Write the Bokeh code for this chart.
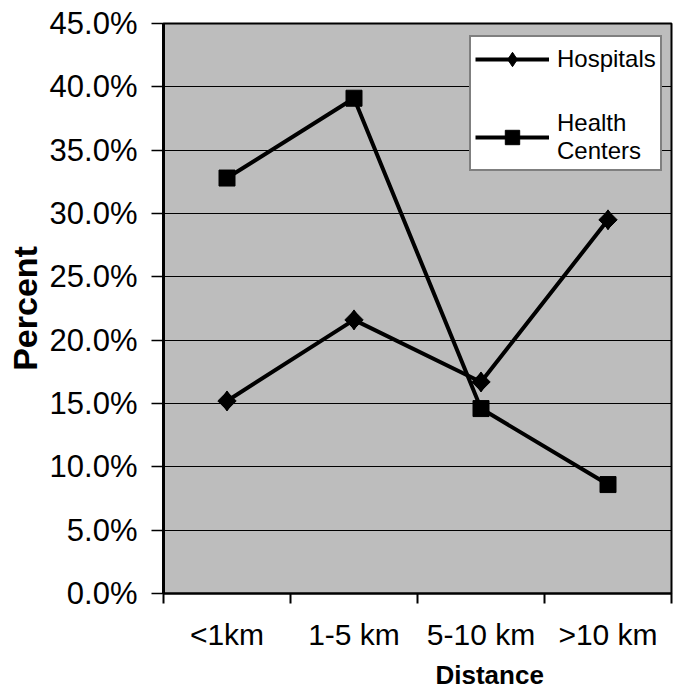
from bokeh.plotting import figure
from bokeh.models import (Range1d, FixedTicker, PrintfTickFormatter, Legend, LegendItem,
                          Title, ColumnDataSource)
from bokeh.embed import file_html
from bokeh.resources import INLINE
import numpy as np

categories = ["<1km", "1-5 km", "5-10 km", ">10 km"]
hospitals = [15.2, 21.6, 16.7, 29.5]
health_centers = [32.8, 39.1, 14.6, 8.6]
y_ticks = [0, 5, 10, 15, 20, 25, 30, 35, 40, 45]

FONT = "Liberation Sans"

xpos = [i + 0.5 for i in range(len(categories))]
src = ColumnDataSource(dict(x=xpos, hosp=hospitals, hc=health_centers))

p = figure(width=674, height=694, output_backend="svg", toolbar_location=None,
           x_range=Range1d(0, len(categories)), y_range=Range1d(0, 45),
           min_border_left=163, min_border_right=3, min_border_top=23, min_border_bottom=101)

p.background_fill_color = "#bdbdbd"
p.border_fill_color = "white"
p.outline_line_color = "black"
p.outline_line_width = 2

# grid
p.xgrid.visible = False
p.ygrid.grid_line_color = "black"
p.ygrid.grid_line_width = 1
p.ygrid.ticker = FixedTicker(ticks=y_ticks)

# y axis
ya = p.yaxis[0]
ya.ticker = FixedTicker(ticks=y_ticks)
ya.formatter = PrintfTickFormatter(format="%.1f%%")
ya.axis_line_width = 3
ya.axis_line_color = "black"
ya.major_tick_in = 0
ya.major_tick_out = 12
ya.major_tick_line_width = 1.5
ya.minor_tick_line_color = None
ya.major_label_text_font = FONT
ya.major_label_text_font_size = "31px"
ya.major_label_text_color = "black"
ya.major_label_standoff = 14
ya.axis_label = "Percent"
ya.axis_label_text_font = FONT
ya.axis_label_text_font_size = "34px"
ya.axis_label_text_font_style = "bold"
ya.axis_label_text_color = "black"
ya.axis_label_standoff = 3

# x axis
xa = p.xaxis[0]
xa.ticker = FixedTicker(ticks=xpos, minor_ticks=list(range(len(categories) + 1)))
xa.major_label_overrides = {x: c for x, c in zip(xpos, categories)}
xa.axis_line_width = 2
xa.axis_line_color = "black"
xa.major_tick_in = 0
xa.major_tick_out = 0
xa.minor_tick_in = 0
xa.minor_tick_out = 10
xa.minor_tick_line_width = 2
xa.minor_tick_line_color = "black"
xa.major_label_text_font = FONT
xa.major_label_text_font_size = "30px"
xa.major_label_text_color = "black"
xa.major_label_standoff = 14

p.add_layout(Title(text="Distance", align="left", offset=272, text_font=FONT,
                   text_font_size="26px", text_font_style="bold", text_color="black",
                   standoff=8), "below")

# series
l1 = p.line("x", "hosp", source=src, line_color="black", line_width=4)
p.scatter("x", "hosp", source=src, marker="square", angle=np.pi / 4, size=13,
          fill_color="black", line_color="black")
m1 = p.scatter("x", "hosp", source=src, marker="diamond", size=20,
               fill_color="black", line_color="black")
l2 = p.line("x", "hc", source=src, line_color="black", line_width=4)
m2 = p.scatter("x", "hc", source=src, marker="square", size=16,
               fill_color="black", line_color="black")

legend = Legend(items=[LegendItem(label="Hospitals", renderers=[l1, m1]),
                       LegendItem(label="Health\nCenters", renderers=[l2, m2])],
                location=(306, 422))
legend.background_fill_color = "white"
legend.background_fill_alpha = 1
legend.border_line_color = "black"
legend.border_line_width = 2
legend.label_text_font = FONT
legend.label_text_font_size = "24px"
legend.label_text_color = "black"
legend.glyph_width = 74
legend.glyph_height = 36
legend.label_standoff = 8
legend.padding = 4
legend.spacing = 32
legend.margin = 0
p.add_layout(legend, "center")

open("out.html", "w").write(file_html(p, INLINE))
